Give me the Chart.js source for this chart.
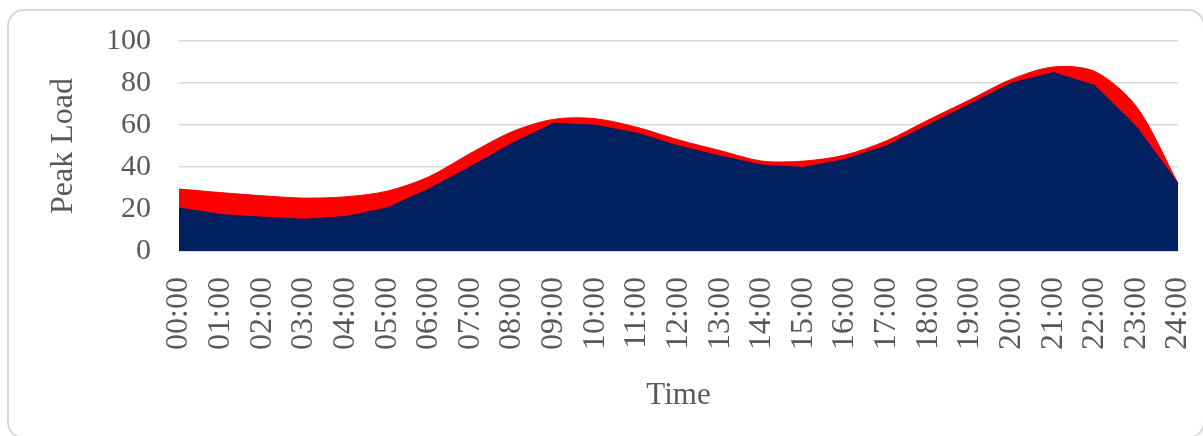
<!DOCTYPE html>
<html>
<head>
<meta charset="utf-8">
<script src="https://cdn.jsdelivr.net/npm/chart.js@4"></script>
<style>
  html, body { margin: 0; padding: 0; background: #fff; overflow: hidden; }
  #wrap { position: relative; width: 1203px; height: 436px; }
  #frame {
    position: absolute; left: 7px; top: 9px; width: 1194px; height: 426px;
    border: 2px solid #d9d9d9; border-radius: 17px; pointer-events: none;
  }
</style>
</head>
<body>
<div id="wrap">
  <canvas id="load-chart" width="1203" height="436"></canvas>
  <div id="frame"></div>
</div>
<script>
// Hourly peak load
const hours = ['00:00', '01:00', '02:00', '03:00', '04:00', '05:00', '06:00', '07:00', '08:00',
  '09:00', '10:00', '11:00', '12:00', '13:00', '14:00', '15:00', '16:00', '17:00', '18:00',
  '19:00', '20:00', '21:00', '22:00', '23:00', '24:00'];
const baseLoad = [20.5, 17.4, 16.1, 15.1, 16.4, 20.5, 29.5, 40.1, 51.3, 60.8, 59.9, 56.1, 50.0,
  45.2, 40.9, 39.8, 43.6, 50.1, 60.0, 69.9, 79.9, 85.0, 78.8, 59.2, 32.2];
const peakLoad = [29.5, 27.8, 26.3, 25.2, 25.8, 28.5, 35.3, 46.5, 56.8, 62.7, 63.0, 58.9, 52.9,
  47.8, 42.8, 42.8, 45.7, 52.5, 62.4, 72.0, 81.8, 87.6, 85.5, 68.8, 32.2];
const yTicks = [0, 20, 40, 60, 80, 100];

const serif = '"Liberation Serif", "Times New Roman", serif';
const grey = '#595959';

const ctx = document.getElementById('load-chart').getContext('2d');
const loadChart = new Chart(ctx, {
    type: 'line',
    data: {
        labels: hours,
        datasets: [{
            label: 'Base',
            data: baseLoad,
            borderColor: '#002060',
            backgroundColor: '#002060',
            borderWidth: 1,
            tension: 0,
            pointRadius: 0,
            fill: 'origin'
        }, {
            label: 'Peak',
            data: peakLoad,
            borderColor: '#ff0000',
            backgroundColor: '#ff0000',
            borderWidth: 1,
            tension: 0.3,
            pointRadius: 0,
            fill: 'origin'
        }]
    },
    options: {
        responsive: false,
        animation: false,
        layout: { padding: { left: 44, right: 25, top: 41, bottom: 0 } },
        plugins: { legend: { display: false }, tooltip: { enabled: false } },
        scales: {
            x: {
                grid: { display: false, drawTicks: false },
                border: { display: true, color: '#d9d9d9', width: 2 },
                ticks: {
                    minRotation: 90, maxRotation: 90, autoSkip: false,
                    padding: 26, color: grey,
                    font: { family: serif, size: 32 }
                },
                title: {
                    display: true, text: 'Time', color: grey,
                    font: { family: serif, size: 31 },
                    padding: { top: 0, bottom: 22 }
                },
                afterFit: (scale) => {
                    scale.height = 436 - 251;
                    scale.paddingLeft = 0;
                    scale.paddingRight = 25;
                }
            },
            y: {
                min: 0, max: 100,
                afterBuildTicks: (scale) => { scale.ticks = yTicks.map(v => ({ value: v })); },
                grid: { color: '#d9d9d9', lineWidth: 1.5, drawTicks: false },
                border: { display: false },
                ticks: {
                    padding: 28, color: grey,
                    font: { family: serif, size: 30 }
                },
                title: {
                    display: true, text: 'Peak Load', color: grey,
                    font: { family: serif, size: 32 },
                    padding: { top: 0, bottom: 18 }
                },
                afterFit: (scale) => {
                    scale.width = 179 - 44;
                    scale.paddingTop = 0;
                    scale.paddingBottom = 0;
                }
            }
        }
    }
});
</script>
</body>
</html>
